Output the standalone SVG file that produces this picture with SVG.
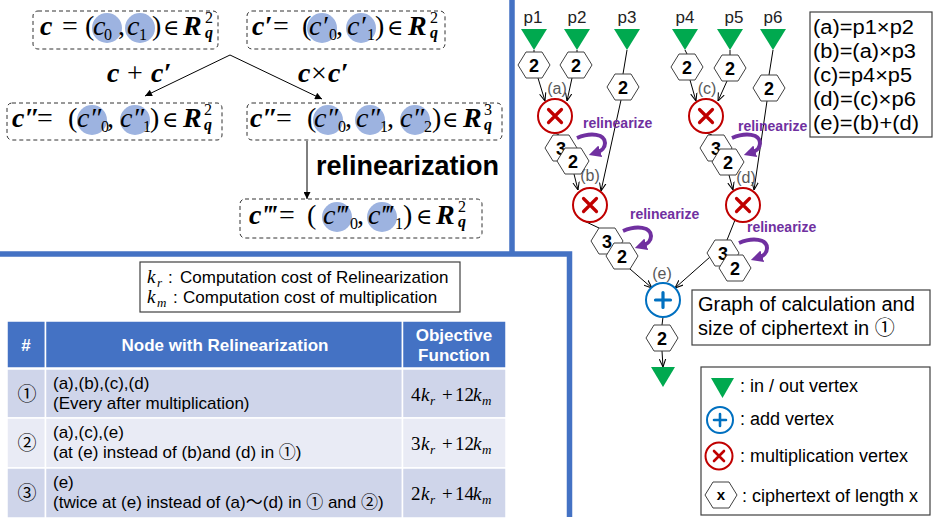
<svg xmlns="http://www.w3.org/2000/svg" xmlns:xlink="http://www.w3.org/1999/xlink" width="939" height="525" viewBox="0 0 939 525">
<style>
.m{font-family:"Liberation Serif","DejaVu Serif",serif;font-size:28px;fill:#000}
.s{font-family:"Liberation Serif","DejaVu Serif",serif;font-size:16px;fill:#000}
.bi{font-weight:bold;font-style:italic}
.it{font-style:italic}
.in{font-size:22px}
.dash{fill:#fff;stroke:#333;stroke-width:1;stroke-dasharray:4 3}
.bub{fill:#9DB3E0}
.sans{font-family:"Liberation Sans","Noto Sans CJK JP",sans-serif}
.hx{fill:#fff;stroke:#404040;stroke-width:1}
.hn{font-family:"Liberation Sans","Noto Sans CJK JP",sans-serif;font-size:18px;font-weight:bold;text-anchor:middle;fill:#000}
.pl{font-family:"Liberation Sans","Noto Sans CJK JP",sans-serif;font-size:17px;text-anchor:middle;fill:#222}
.gl{font-family:"Liberation Sans","Noto Sans CJK JP",sans-serif;font-size:16px;text-anchor:middle;fill:#595959}
.tri{fill:#00A94F}
.mul{fill:#fff;stroke:#C00000;stroke-width:2}
.mx{stroke:#C00000;stroke-width:3.2;stroke-linecap:round}
.add{fill:#fff;stroke:#0070C0;stroke-width:2}
.ax{stroke:#0070C0;stroke-width:3.2;stroke-linecap:round}
.e{stroke:#000;stroke-width:1;fill:none}
.ea{stroke:#000;stroke-width:1;fill:none;marker-end:url(#arr)}
.rl{font-family:"Liberation Sans","Noto Sans CJK JP",sans-serif;font-size:14px;font-weight:bold;fill:#7030A0}
.box{fill:#fff;stroke:#404040;stroke-width:1.2}
.t17{font-family:"Liberation Sans","Noto Sans CJK JP",sans-serif;font-size:17px;fill:#000}
.th{font-family:"Liberation Sans","Noto Sans CJK JP",sans-serif;font-size:17px;font-weight:bold;fill:#fff;text-anchor:middle}
.mt{font-family:"Liberation Serif","DejaVu Serif",serif;font-size:19px;fill:#000}
</style>
<defs>
<marker id="arr" viewBox="0 0 10 10" refX="10" refY="5" markerWidth="8" markerHeight="8" orient="auto" markerUnits="userSpaceOnUse"><path d="M0,1 L10,5 L0,9" fill="none" stroke="#000" stroke-width="1.3"/></marker>
<marker id="arrF" viewBox="0 0 10 10" refX="10" refY="5" markerWidth="8" markerHeight="7" orient="auto" markerUnits="userSpaceOnUse"><path d="M0,0 L10,5 L0,10 z" fill="#000"/></marker>
<marker id="arrP" viewBox="0 0 10 10" refX="2" refY="5" markerWidth="12" markerHeight="12" orient="auto" markerUnits="userSpaceOnUse"><path d="M0,0 L10,5 L0,10 z" fill="#7030A0"/></marker>
<polygon id="hex" points="-16,0 -8,-13 8,-13 16,0 8,13 -8,13"/>
<path id="relc" d="M16,-10 C30,-16 44,-14 44,-5 C44,0 40,3 37,4" fill="none" stroke="#7030A0" stroke-width="4" marker-end="url(#arrP)"/>
</defs>
<rect width="939" height="525" fill="#fff"/>

<!-- blue dividers -->
<path d="M512,0 V254 M0,254 H569.5 V517" stroke="#4472C4" stroke-width="5.5" fill="none"/>

<!-- top-left formulas -->
<g id="f1">
<rect x="33" y="11" width="185" height="38" rx="5" class="dash"/>
<circle cx="107" cy="28" r="15" class="bub"/><circle cx="140" cy="28" r="15" class="bub"/>
<text class="m" y="35"><tspan x="40" class="bi">c</tspan><tspan x="62">=</tspan><tspan x="85">(</tspan><tspan x="93" class="it">c</tspan><tspan x="118">,</tspan><tspan x="127" class="it">c</tspan><tspan x="152">)</tspan><tspan x="163" class="in">∈</tspan><tspan x="183" class="bi">R</tspan></text>
<text class="s" y="40"><tspan x="104">0</tspan><tspan x="139">1</tspan></text>
<text class="s" x="205" y="23">2</text><text class="s bi" x="205" y="38">q</text>
</g>
<g id="f2">
<rect x="247" y="11" width="198" height="38" rx="5" class="dash"/>
<circle cx="322" cy="28" r="15" class="bub"/><circle cx="361" cy="28" r="15" class="bub"/>
<text class="m" y="35"><tspan x="252" class="bi">c′</tspan><tspan x="273">=</tspan><tspan x="302">(</tspan><tspan x="309" class="it">c′</tspan><tspan x="336">,</tspan><tspan x="347" class="it">c′</tspan><tspan x="375">)</tspan><tspan x="387" class="in">∈</tspan><tspan x="408" class="bi">R</tspan></text>
<text class="s" y="40"><tspan x="329">0</tspan><tspan x="367">1</tspan></text>
<text class="s" x="430" y="23">2</text><text class="s bi" x="430" y="38">q</text>
</g>
<g id="f3">
<rect x="7" y="103" width="215" height="37" rx="5" class="dash"/>
<circle cx="92" cy="120" r="15" class="bub"/><circle cx="135" cy="120" r="15" class="bub"/>
<text class="m" y="127"><tspan x="12" class="bi">c″</tspan><tspan x="37">=</tspan><tspan x="68">(</tspan><tspan x="77" class="it">c″</tspan><tspan x="107">,</tspan><tspan x="120" class="it">c″</tspan><tspan x="150">)</tspan><tspan x="162" class="in">∈</tspan><tspan x="183" class="bi">R</tspan></text>
<text class="s" y="132"><tspan x="101">0</tspan><tspan x="143">1</tspan></text>
<text class="s" x="204" y="115">2</text><text class="s bi" x="204" y="130">q</text>
</g>
<g id="f4">
<rect x="247" y="103" width="255" height="37" rx="5" class="dash"/>
<circle cx="328" cy="120" r="15" class="bub"/><circle cx="370" cy="120" r="15" class="bub"/><circle cx="415" cy="120" r="15" class="bub"/>
<text class="m" y="127"><tspan x="250" class="bi">c″</tspan><tspan x="276">=</tspan><tspan x="307">(</tspan><tspan x="314" class="it">c″</tspan><tspan x="345">,</tspan><tspan x="356" class="it">c″</tspan><tspan x="387">,</tspan><tspan x="400" class="it">c″</tspan><tspan x="432">)</tspan><tspan x="442" class="in">∈</tspan><tspan x="463" class="bi">R</tspan></text>
<text class="s" y="132"><tspan x="338">0</tspan><tspan x="380">1</tspan><tspan x="424">2</tspan></text>
<text class="s" x="484" y="115">3</text><text class="s bi" x="484" y="130">q</text>
</g>
<g id="f5">
<rect x="240" y="199" width="242" height="39" rx="5" class="dash"/>
<circle cx="337" cy="217" r="15" class="bub"/><circle cx="382" cy="217" r="15" class="bub"/>
<text class="m" y="224"><tspan x="249" class="bi">c‴</tspan><tspan x="279">=</tspan><tspan x="307">(</tspan><tspan x="323" class="it">c‴</tspan><tspan x="357">,</tspan><tspan x="368" class="it">c‴</tspan><tspan x="403">)</tspan><tspan x="416" class="in">∈</tspan><tspan x="436" class="bi">R</tspan></text>
<text class="s" y="229"><tspan x="350">0</tspan><tspan x="395">1</tspan></text>
<text class="s" x="458" y="212">2</text><text class="s bi" x="458" y="227">q</text>
</g>
<g id="ops">
<path d="M230,55 L145,96" class="e" marker-end="url(#arrF)"/>
<path d="M230,55 L322,99" class="e" marker-end="url(#arrF)"/>
<path d="M307,141 V199" class="e" marker-end="url(#arrF)"/>
<text class="m" y="82"><tspan x="107" class="bi">c</tspan><tspan x="127">+</tspan><tspan x="151" class="bi">c′</tspan></text>
<text class="m" y="82"><tspan x="298" class="bi">c</tspan><tspan x="311">×</tspan><tspan x="328" class="bi">c′</tspan></text>
<text class="sans" x="316" y="175" style="font-size:27px;font-weight:bold">relinearization</text>
</g>

<!-- graph connectors -->
<g id="connectors">
<path class="e" d="M534,50 V52 M577,50 V52 M627,50 L623,74 M685,50 L687,54 M730,50 V55 M773,50 L769,75"/>
<path class="ea" d="M538,78 L545,101"/>
<path class="ea" d="M572,78 L567,101"/>
<path class="ea" d="M690,80 L696,101"/>
<path class="ea" d="M727,81 L718,101"/>
<path class="e" d="M555,133 L559,135 M706,133 L712,135"/>
<path class="ea" d="M574,174 L578,190"/>
<path class="ea" d="M621,100 L601,191"/>
<path class="ea" d="M729,175 L733,190"/>
<path class="ea" d="M767,101 L754,190"/>
<path class="e" d="M582,220 L599,228 M735,220 L727,240"/>
<path class="ea" d="M630,269 L652,288"/>
<path class="ea" d="M710,257 L675,288"/>
<path class="e" d="M663,317 L662,325"/>
<path class="ea" d="M662,351 L663,367"/>
</g>

<!-- labels under hexes -->
<g id="oplabels">
<text class="gl" x="557" y="94">(a)</text>
<text class="gl" x="707" y="94">(c)</text>
<text class="gl" x="590" y="181">(b)</text>
<text class="gl" x="746" y="183">(d)</text>
<text class="gl" x="662" y="279">(e)</text>
</g>

<!-- inputs -->
<g id="p1"><text class="pl" x="533" y="23">p1</text><polygon class="tri" points="521,29 547,29 534,50"/></g>
<g id="p2"><text class="pl" x="577" y="23">p2</text><polygon class="tri" points="564,29 590,29 577,50"/></g>
<g id="p3"><text class="pl" x="627" y="23">p3</text><polygon class="tri" points="614,29 640,29 627,50"/></g>
<g id="p4"><text class="pl" x="685" y="23">p4</text><polygon class="tri" points="672,29 698,29 685,50"/></g>
<g id="p5"><text class="pl" x="734" y="23">p5</text><polygon class="tri" points="717,29 743,29 730,50"/></g>
<g id="p6"><text class="pl" x="773" y="23">p6</text><polygon class="tri" points="760,29 786,29 773,50"/></g>

<!-- hexes -->
<g id="h1"><use href="#hex" x="534" y="65" class="hx"/><text class="hn" x="534" y="71.5">2</text></g>
<g id="h2"><use href="#hex" x="576" y="65" class="hx"/><text class="hn" x="576" y="71.5">2</text></g>
<g id="h3"><use href="#hex" x="623" y="87" class="hx"/><text class="hn" x="623" y="93.5">2</text></g>
<g id="h4"><use href="#hex" x="687" y="67" class="hx"/><text class="hn" x="687" y="73.5">2</text></g>
<g id="h5"><use href="#hex" x="730" y="68" class="hx"/><text class="hn" x="730" y="74.5">2</text></g>
<g id="h6"><use href="#hex" x="769" y="88" class="hx"/><text class="hn" x="769" y="94.5">2</text></g>

<!-- multiplication / add -->
<g id="a"><circle cx="555" cy="116" r="17" class="mul"/><path class="mx" d="M548.5,109.5 L561.5,122.5 M561.5,109.5 L548.5,122.5"/></g>
<g id="c"><circle cx="706" cy="116" r="17" class="mul"/><path class="mx" d="M699.5,109.5 L712.5,122.5 M712.5,109.5 L699.5,122.5"/></g>
<g id="b"><circle cx="590" cy="205" r="17" class="mul"/><path class="mx" d="M583.5,198.5 L596.5,211.5 M596.5,198.5 L583.5,211.5"/></g>
<g id="d"><circle cx="743" cy="205" r="17" class="mul"/><path class="mx" d="M736.5,198.5 L749.5,211.5 M749.5,198.5 L736.5,211.5"/></g>
<g id="e"><circle cx="663" cy="300" r="17" class="add"/><path class="ax" d="M655.5,300 H670.5 M663,292.5 V307.5"/></g>

<!-- relinearized hex pairs -->
<g id="ra"><use href="#hex" x="561" y="148" class="hx"/><text class="hn" x="561" y="154.5">3</text><use href="#hex" x="573" y="161" class="hx"/><text class="hn" x="573" y="167.5">2</text>
<use href="#relc" transform="translate(561,148)"/><text class="rl" x="583" y="128">relinearize</text></g>
<g id="rc"><use href="#hex" x="716" y="148" class="hx"/><text class="hn" x="716" y="154.5">3</text><use href="#hex" x="728" y="162" class="hx"/><text class="hn" x="728" y="168.5">2</text>
<use href="#relc" transform="translate(716,148)"/><text class="rl" x="738" y="131">relinearize</text></g>
<g id="rb"><use href="#hex" x="607" y="241" class="hx"/><text class="hn" x="607" y="247.5">3</text><use href="#hex" x="622" y="256" class="hx"/><text class="hn" x="622" y="262.5">2</text>
<use href="#relc" transform="translate(607,241)"/><text class="rl" x="630" y="219">relinearize</text></g>
<g id="rd"><use href="#hex" x="723" y="253" class="hx"/><text class="hn" x="723" y="259.5">3</text><use href="#hex" x="735" y="268" class="hx"/><text class="hn" x="735" y="274.5">2</text>
<use href="#relc" transform="translate(723,253)"/><text class="rl" x="747" y="232">relinearize</text></g>
<g id="he"><use href="#hex" x="662" y="338" class="hx"/><text class="hn" x="662" y="344.5">2</text></g>
<g id="out"><polygon class="tri" points="651,367 675,367 663,387"/></g>

<!-- definitions box -->
<g id="defs-box">
<rect x="810" y="12" width="122" height="125" class="box"/>
<text class="sans" style="font-size:19.5px"><tspan x="813" y="34" textLength="101" lengthAdjust="spacingAndGlyphs">(a)=p1×p2</tspan><tspan x="813" y="58" textLength="103" lengthAdjust="spacingAndGlyphs">(b)=(a)×p3</tspan><tspan x="813" y="82" textLength="99" lengthAdjust="spacingAndGlyphs">(c)=p4×p5</tspan><tspan x="813" y="106" textLength="103" lengthAdjust="spacingAndGlyphs">(d)=(c)×p6</tspan><tspan x="813" y="130" textLength="106" lengthAdjust="spacingAndGlyphs">(e)=(b)+(d)</tspan></text>
</g>

<!-- caption box -->
<g id="caption">
<rect x="692" y="290" width="238" height="55" class="box"/>
<text class="sans" style="font-size:20px"><tspan x="698" y="311">Graph of calculation and</tspan><tspan x="698" y="335">size of ciphertext in ①</tspan></text>
</g>

<!-- legend -->
<g id="legend">
<rect x="701" y="367" width="229" height="148" class="box"/>
<polygon class="tri" points="711,378 734,378 722.5,398"/>
<text class="sans" x="740" y="392" style="font-size:18px">: in / out vertex</text>
<circle cx="720" cy="420" r="13" class="add"/><path class="ax" d="M714,420 H726 M720,414 V426" style="stroke-width:2.6"/>
<text class="sans" x="740" y="425" style="font-size:18px">: add vertex</text>
<circle cx="719" cy="456" r="13.5" class="mul"/><path class="mx" d="M714,451 L724,461 M724,451 L714,461" style="stroke-width:2.6"/>
<text class="sans" x="740" y="462" style="font-size:18px">: multiplication vertex</text>
<use href="#hex" x="721" y="495" class="hx"/><text class="hn" x="721" y="500" style="font-size:15px">x</text>
<text class="sans" x="742" y="502" style="font-size:18px">: ciphertext of length x</text>
</g>

<!-- cost box -->
<g id="cost">
<rect x="140" y="262" width="320" height="50" class="box"/>
<text class="mt it" x="147" y="283">k</text><text class="mt it" x="157" y="287" style="font-size:13px">r</text>
<text class="t17" x="168" y="283">:</text><text class="t17" x="180" y="283">Computation cost of Relinearization</text>
<text class="mt it" x="147" y="303">k</text><text class="mt it" x="157" y="307" style="font-size:13px">m</text>
<text class="t17" x="173" y="303">:</text><text class="t17" x="183" y="303">Computation cost of multiplication</text>
</g>

<!-- table -->
<g id="table">
<g stroke="#fff" stroke-width="1.5">
<rect x="7" y="321" width="38.5" height="47" fill="#4472C4"/>
<rect x="45.5" y="321" width="357" height="47" fill="#4472C4"/>
<rect x="402.5" y="321" width="103.5" height="47" fill="#4472C4"/>
<rect x="7" y="369" width="38.5" height="49" fill="#CFD5EA"/>
<rect x="45.5" y="369" width="357" height="49" fill="#CFD5EA"/>
<rect x="402.5" y="369" width="103.5" height="49" fill="#CFD5EA"/>
<rect x="7" y="418" width="38.5" height="50" fill="#E9EBF5"/>
<rect x="45.5" y="418" width="357" height="50" fill="#E9EBF5"/>
<rect x="402.5" y="418" width="103.5" height="50" fill="#E9EBF5"/>
<rect x="7" y="468" width="38.5" height="50" fill="#CFD5EA"/>
<rect x="45.5" y="468" width="357" height="50" fill="#CFD5EA"/>
<rect x="402.5" y="468" width="103.5" height="50" fill="#CFD5EA"/>
</g>
<text class="th" x="26" y="351">#</text>
<text class="th" x="225" y="351">Node with Relinearization</text>
<text class="th" x="454" y="341">Objective</text>
<text class="th" x="454" y="361">Function</text>
<text class="t17" x="27" y="401" style="text-anchor:middle;font-size:19px">①</text>
<text class="t17" x="27" y="450" style="text-anchor:middle;font-size:19px">②</text>
<text class="t17" x="27" y="500" style="text-anchor:middle;font-size:19px">③</text>
<text class="t17"><tspan x="53" y="389">(a),(b),(c),(d)</tspan><tspan x="53" y="409">(Every after multiplication)</tspan></text>
<text class="t17"><tspan x="53" y="438">(a),(c),(e)</tspan><tspan x="53" y="458">(at (e) instead of (b)and (d) in ①)</tspan></text>
<text class="t17"><tspan x="53" y="488">(e)</tspan><tspan x="53" y="508">(twice at (e) instead of (a)～(d) in ① and ②)</tspan></text>
<text class="mt" y="401"><tspan x="411">4</tspan><tspan x="421" class="it">k</tspan><tspan x="442">+</tspan><tspan x="455">12</tspan><tspan x="473" class="it">k</tspan></text>
<text class="mt it" y="405" style="font-size:13px"><tspan x="430">r</tspan><tspan x="482">m</tspan></text>
<text class="mt" y="450"><tspan x="411">3</tspan><tspan x="421" class="it">k</tspan><tspan x="442">+</tspan><tspan x="455">12</tspan><tspan x="473" class="it">k</tspan></text>
<text class="mt it" y="454" style="font-size:13px"><tspan x="430">r</tspan><tspan x="482">m</tspan></text>
<text class="mt" y="500"><tspan x="411">2</tspan><tspan x="421" class="it">k</tspan><tspan x="442">+</tspan><tspan x="455">14</tspan><tspan x="473" class="it">k</tspan></text>
<text class="mt it" y="504" style="font-size:13px"><tspan x="430">r</tspan><tspan x="482">m</tspan></text>
</g>
</svg>
